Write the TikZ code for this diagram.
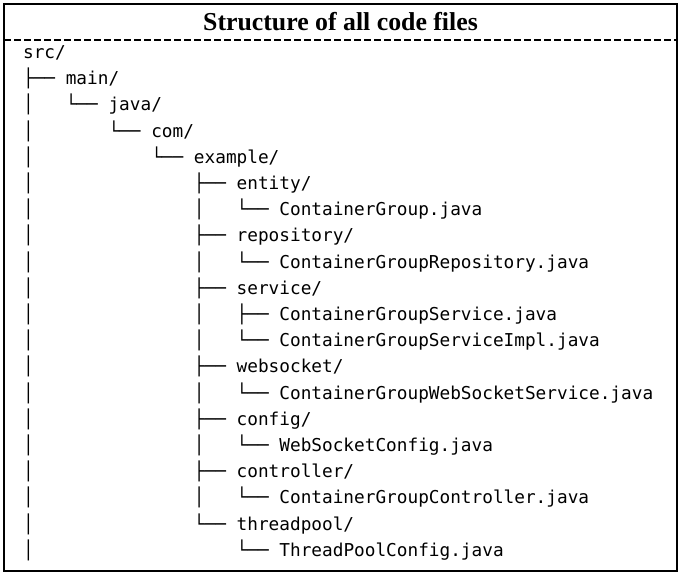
\documentclass[tikz,border=0pt]{standalone}
\usepackage{fontspec}
\setmainfont{Liberation Serif}
\setmonofont{DejaVu Sans Mono}
\usepackage{tikz}

% tree indentation pieces (one column = one mono character)
\newcommand{\dirbar}{│~~~}
\newcommand{\dirgap}{~~~~}
\newcommand{\pkgdeep}{\dirbar\dirgap\dirgap\dirgap}

\begin{document}
\begin{tikzpicture}[
    x=0.5pt, y=-0.5pt,
    every node/.style={inner sep=0pt, text=black},
    boxframe/.style={draw, line width=1.25pt},
    headline/.style={draw, line width=1pt, dash pattern=on 3.5pt off 1.5pt},
    headtext/.style={font=\fontsize{12.9}{15}\selectfont\bfseries, anchor=base},
    treeline/.style={font=\ttfamily\fontsize{8.87}{10}\selectfont, anchor=base west}
]
\useasboundingbox (0,0) rectangle (681,573);

\draw[boxframe] (4,4) rectangle (677,571);
\node[headtext] (head) at (340.5,31) {Structure of all code files};
\coordinate (sepL) at (4,40);
\coordinate (sepR) at (677,40);
\draw[headline] (sepL) -- (sepR);

\foreach \t [count=\i] in {
    src/,
    ├── main/,
    \dirbar{}└── java/,
    \dirbar\dirgap{}└── com/,
    \dirbar\dirgap\dirgap{}└── example/,
    \pkgdeep{}├── entity/,
    \pkgdeep\dirbar{}└── ContainerGroup.java,
    \pkgdeep{}├── repository/,
    \pkgdeep\dirbar{}└── ContainerGroupRepository.java,
    \pkgdeep{}├── service/,
    \pkgdeep\dirbar{}├── ContainerGroupService.java,
    \pkgdeep\dirbar{}└── ContainerGroupServiceImpl.java,
    \pkgdeep{}├── websocket/,
    \pkgdeep\dirbar{}└── ContainerGroupWebSocketService.java,
    \pkgdeep{}├── config/,
    \pkgdeep\dirbar{}└── WebSocketConfig.java,
    \pkgdeep{}├── controller/,
    \pkgdeep\dirbar{}└── ContainerGroupController.java,
    \pkgdeep{}└── threadpool/,
    \pkgdeep\dirgap{}└── ThreadPoolConfig.java}
    \node[treeline] (line\i) at (22.7,{58.5+26.2*(\i-1)}) {\t};

\end{tikzpicture}
\end{document}
